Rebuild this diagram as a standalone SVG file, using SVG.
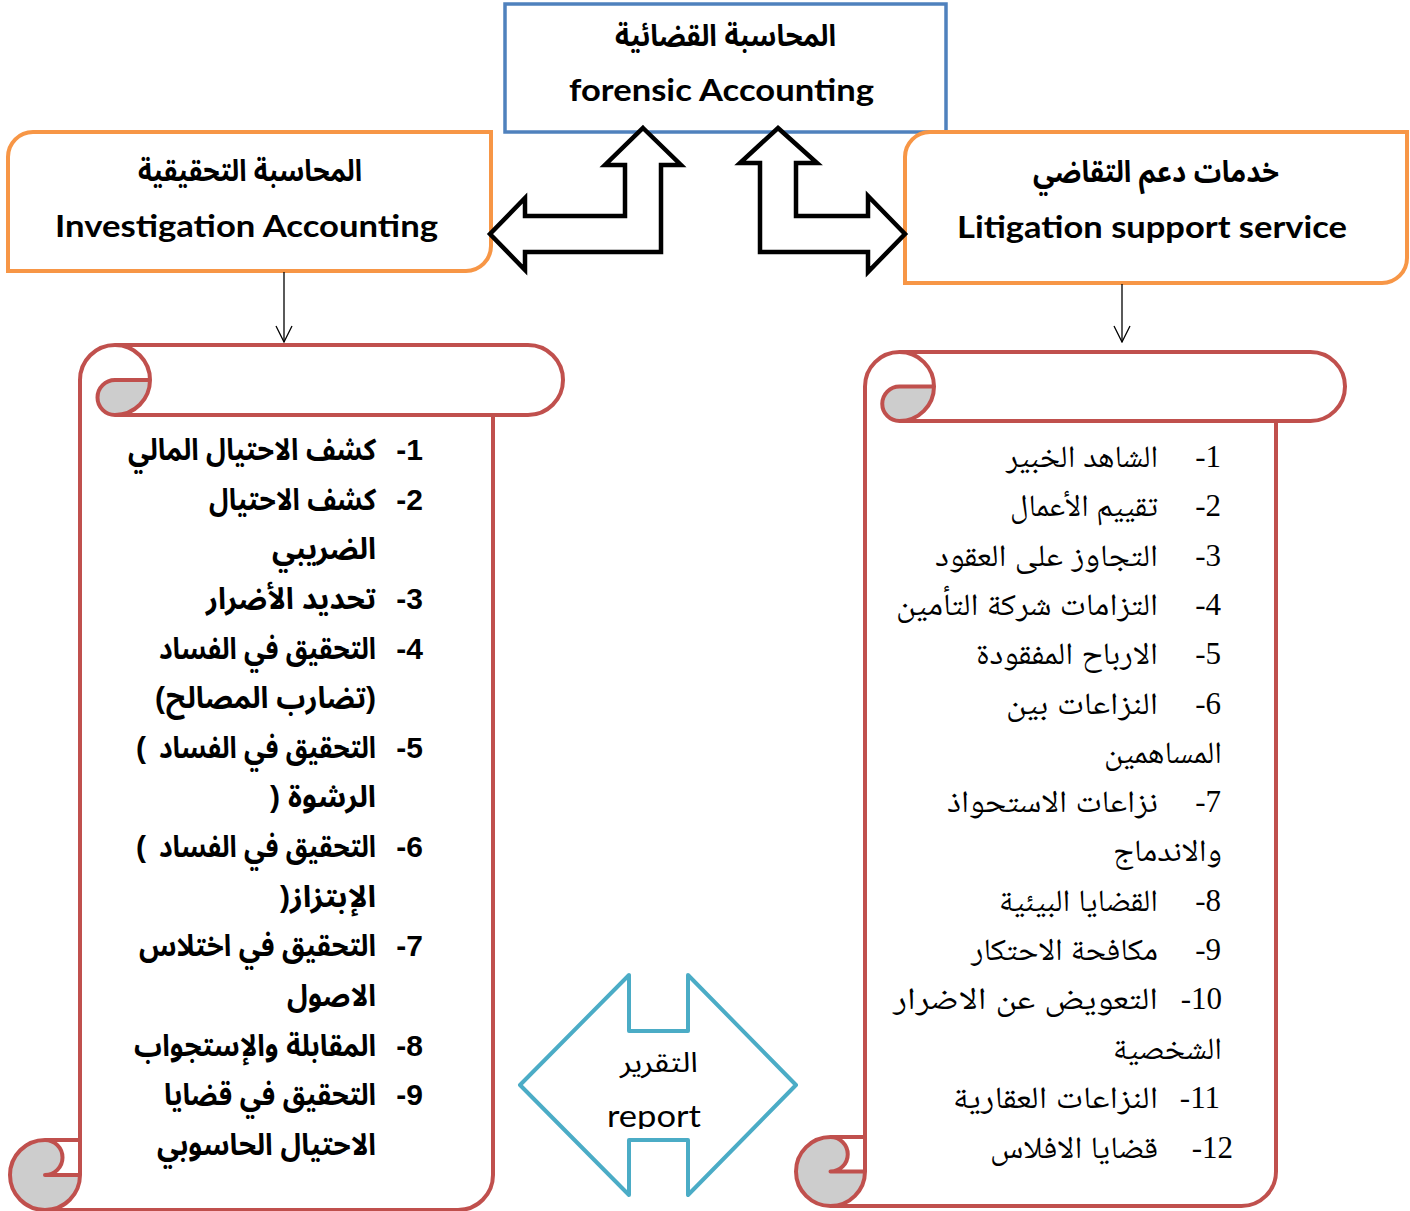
<svg xmlns="http://www.w3.org/2000/svg" width="1410" height="1211" viewBox="0 0 1410 1211">
  <style>
    .blue { fill: #ffffff; stroke: #4F81BD; stroke-width: 3.5; }
    .orange { fill: #ffffff; stroke: #F79646; stroke-width: 4; }
    .scroll-fill { fill: #ffffff; stroke: none; }
    .scroll-line { fill: none; stroke: #C0504D; stroke-width: 4; stroke-linejoin: round; }
    .scroll-shade { fill: #CDCDCD; stroke: none; }
    .block { fill: #ffffff; stroke: #000000; stroke-width: 4.5; stroke-linejoin: miter; }
    .report { fill: #ffffff; stroke: #4BACC6; stroke-width: 4; stroke-linejoin: round; }
    .conn { fill: none; stroke: #000000; stroke-width: 1.3; }
    .en { font-family: Lato, "Open Sans", "Liberation Sans", sans-serif; font-weight: bold; font-size: 31px; fill: #000; }
    .ar-title { font-family: "Liberation Sans", "Noto Sans Arabic", "DejaVu Sans", sans-serif; font-weight: bold; font-size: 30px; fill: #000; }
    .ar-b { font-family: "Liberation Sans", "Noto Sans Arabic", "DejaVu Sans", sans-serif; font-weight: bold; font-size: 30px; fill: #000; text-anchor: end; }
    .par-b { font-family: "Liberation Sans", Arial, sans-serif; font-weight: bold; font-size: 30px; fill: #000; }
    .num-b { font-family: "Liberation Sans", Arial, sans-serif; font-weight: bold; font-size: 30px; fill: #000; text-anchor: end; }
    .ar-r { font-family: "Liberation Serif", "Noto Naskh Arabic", "DejaVu Sans", serif; font-size: 31px; fill: #000; text-anchor: end; }
    .num-r { font-family: "Liberation Serif", "Times New Roman", serif; font-size: 31px; fill: #000; text-anchor: end; }
    .rep-ar { font-family: "Liberation Sans", "Noto Sans Arabic", "DejaVu Sans", sans-serif; font-size: 28px; fill: #000; text-anchor: middle; }
    .rep-en { font-family: Lato, "Open Sans", "Liberation Sans", sans-serif; font-size: 31px; fill: #000; text-anchor: middle; }
  </style>
  <defs>
    <marker id="open-head" viewBox="0 0 18 18" refX="17" refY="9" markerWidth="18" markerHeight="18" markerUnits="userSpaceOnUse" orient="auto">
      <path d="M1,1 L17,9 L1,17" fill="none" stroke="#000" stroke-width="1.3"/>
    </marker>
    <clipPath id="report-clip">
      <rect x="520" y="1090" width="280" height="39"/>
    </clipPath>
  </defs>

  <!-- left scroll: investigation services -->
  <g id="scroll-investigation">
    <path class="scroll-fill" d="M80,1140 L80,380 A35,35 0 0 1 115,345 L528,345 A35,35 0 0 1 528,415 L493,415 L493,1175 A35,35 0 0 1 458,1210 L45,1210 A35,35 0 0 1 45,1140 Z"/>
    <path class="scroll-shade" d="M150,380 A35,35 0 0 1 115,415 A17.5,17.5 0 0 1 115,380 Z"/>
    <path class="scroll-shade" d="M80,1175 A35,35 0 1 1 45,1140 A17.5,17.5 0 0 1 45,1175 Z"/>
    <path class="scroll-line" d="M80,1140 L80,380 A35,35 0 0 1 115,345 L528,345 A35,35 0 0 1 528,415 L493,415 L493,1175 A35,35 0 0 1 458,1210 L45,1210 A35,35 0 0 1 45,1140 Z M115,345 A35,35 0 0 1 115,415 A17.5,17.5 0 0 1 115,380 L150,380 M493,415 L115,415 M45,1140 A17.5,17.5 0 0 1 45,1175 L80,1175 M45,1210 A35,35 0 0 0 80,1175 L80,1140"/>
    <text class="num-b" x="423" y="460">-1</text>
    <text class="ar-b" x="376" y="460" textLength="248" lengthAdjust="spacingAndGlyphs">كشف الاحتيال المالي</text>
    <text class="num-b" x="423" y="510">-2</text>
    <text class="ar-b" x="376" y="510" textLength="167" lengthAdjust="spacingAndGlyphs">كشف الاحتيال</text>
    <text class="ar-b" x="376" y="559" textLength="104" lengthAdjust="spacingAndGlyphs">الضريبي</text>
    <text class="num-b" x="423" y="609">-3</text>
    <text class="ar-b" x="376" y="609" textLength="170" lengthAdjust="spacingAndGlyphs">تحديد الأضرار</text>
    <text class="num-b" x="423" y="659">-4</text>
    <text class="ar-b" x="376" y="659" textLength="217" lengthAdjust="spacingAndGlyphs">التحقيق في الفساد</text>
    <text class="par-b" x="155" y="708">(</text>
    <text class="ar-b" x="366" y="708" textLength="200" lengthAdjust="spacingAndGlyphs">تضارب المصالح</text>
    <text class="par-b" x="366" y="708">)</text>
    <text class="num-b" x="423" y="758">-5</text>
    <text class="ar-b" x="376" y="758" textLength="217" lengthAdjust="spacingAndGlyphs">التحقيق في الفساد</text>
    <text class="par-b" x="136" y="758">(</text>
    <text class="ar-b" x="376" y="807" textLength="88" lengthAdjust="spacingAndGlyphs">الرشوة</text>
    <text class="par-b" x="270" y="807">)</text>
    <text class="num-b" x="423" y="857">-6</text>
    <text class="ar-b" x="376" y="857" textLength="217" lengthAdjust="spacingAndGlyphs">التحقيق في الفساد</text>
    <text class="par-b" x="136" y="857">(</text>
    <text class="ar-b" x="376" y="907" textLength="86" lengthAdjust="spacingAndGlyphs">الإبتزاز</text>
    <text class="par-b" x="280" y="907">)</text>
    <text class="num-b" x="423" y="956">-7</text>
    <text class="ar-b" x="376" y="956" textLength="237" lengthAdjust="spacingAndGlyphs">التحقيق في اختلاس</text>
    <text class="ar-b" x="376" y="1006" textLength="89" lengthAdjust="spacingAndGlyphs">الاصول</text>
    <text class="num-b" x="423" y="1056">-8</text>
    <text class="ar-b" x="376" y="1056" textLength="242" lengthAdjust="spacingAndGlyphs">المقابلة والإستجواب</text>
    <text class="num-b" x="423" y="1105">-9</text>
    <text class="ar-b" x="376" y="1105" textLength="212" lengthAdjust="spacingAndGlyphs">التحقيق في قضايا</text>
    <text class="ar-b" x="376" y="1155" textLength="219" lengthAdjust="spacingAndGlyphs">الاحتيال الحاسوبي</text>
  </g>

  <!-- right scroll: litigation support services -->
  <g id="scroll-litigation">
    <path class="scroll-fill" d="M865,1137 L865,386.5 A34.5,34.5 0 0 1 899.5,352 L1310.5,352 A34.5,34.5 0 0 1 1310.5,421 L1276,421 L1276,1171.5 A34.5,34.5 0 0 1 1241.5,1206 L830.5,1206 A34.5,34.5 0 0 1 830.5,1137 Z"/>
    <path class="scroll-shade" d="M934,386.5 A34.5,34.5 0 0 1 899.5,421 A17.25,17.25 0 0 1 899.5,386.5 Z"/>
    <path class="scroll-shade" d="M865,1171.5 A34.5,34.5 0 1 1 830.5,1137 A17.25,17.25 0 0 1 830.5,1171.5 Z"/>
    <path class="scroll-line" d="M865,1137 L865,386.5 A34.5,34.5 0 0 1 899.5,352 L1310.5,352 A34.5,34.5 0 0 1 1310.5,421 L1276,421 L1276,1171.5 A34.5,34.5 0 0 1 1241.5,1206 L830.5,1206 A34.5,34.5 0 0 1 830.5,1137 Z M899.5,352 A34.5,34.5 0 0 1 899.5,421 A17.25,17.25 0 0 1 899.5,386.5 L934,386.5 M1276,421 L899.5,421 M830.5,1137 A17.25,17.25 0 0 1 830.5,1171.5 L865,1171.5 M830.5,1206 A34.5,34.5 0 0 0 865,1171.5 L865,1137"/>
    <text class="num-r" x="1221" y="467">-1</text>
    <text class="ar-r" x="1158" y="467" textLength="152" lengthAdjust="spacingAndGlyphs">الشاهد الخبير</text>
    <text class="num-r" x="1221" y="516">-2</text>
    <text class="ar-r" x="1158" y="516" textLength="148" lengthAdjust="spacingAndGlyphs">تقييم الأعمال</text>
    <text class="num-r" x="1221" y="566">-3</text>
    <text class="ar-r" x="1158" y="566" textLength="223" lengthAdjust="spacingAndGlyphs">التجاوز على العقود</text>
    <text class="num-r" x="1221" y="615">-4</text>
    <text class="ar-r" x="1158" y="615" textLength="262" lengthAdjust="spacingAndGlyphs">التزامات شركة التأمين</text>
    <text class="num-r" x="1221" y="664">-5</text>
    <text class="ar-r" x="1158" y="664" textLength="182" lengthAdjust="spacingAndGlyphs">الارباح المفقودة</text>
    <text class="num-r" x="1221" y="714">-6</text>
    <text class="ar-r" x="1158" y="714" textLength="152" lengthAdjust="spacingAndGlyphs">النزاعات بين</text>
    <text class="ar-r" x="1222" y="763" textLength="118" lengthAdjust="spacingAndGlyphs">المساهمين</text>
    <text class="num-r" x="1221" y="812">-7</text>
    <text class="ar-r" x="1158" y="812" textLength="211" lengthAdjust="spacingAndGlyphs">نزاعات الاستحواذ</text>
    <text class="ar-r" x="1222" y="861" textLength="109" lengthAdjust="spacingAndGlyphs">والاندماج</text>
    <text class="num-r" x="1221" y="911">-8</text>
    <text class="ar-r" x="1158" y="911" textLength="159" lengthAdjust="spacingAndGlyphs">القضايا البيئية</text>
    <text class="num-r" x="1221" y="960">-9</text>
    <text class="ar-r" x="1158" y="960" textLength="187" lengthAdjust="spacingAndGlyphs">مكافحة الاحتكار</text>
    <text class="num-r" x="1222" y="1009">-10</text>
    <text class="ar-r" x="1158" y="1009" textLength="265" lengthAdjust="spacingAndGlyphs">التعويض عن الاضرار</text>
    <text class="ar-r" x="1222" y="1059" textLength="109" lengthAdjust="spacingAndGlyphs">الشخصية</text>
    <text class="num-r" x="1220" y="1108">-11</text>
    <text class="ar-r" x="1158" y="1108" textLength="205" lengthAdjust="spacingAndGlyphs">النزاعات العقارية</text>
    <text class="num-r" x="1233" y="1158">-12</text>
    <text class="ar-r" x="1158" y="1158" textLength="168" lengthAdjust="spacingAndGlyphs">قضايا الافلاس</text>
  </g>

  <!-- top node: forensic accounting -->
  <g id="node-forensic">
    <rect class="blue" x="505" y="4" width="441" height="128"/>
    <text class="ar-title" x="725.5" y="46" text-anchor="middle" textLength="221" lengthAdjust="spacingAndGlyphs">المحاسبة القضائية</text>
    <text class="en" x="721.5" y="101" text-anchor="middle" textLength="305" lengthAdjust="spacingAndGlyphs">forensic Accounting</text>
  </g>

  <!-- left node: investigation accounting -->
  <g id="node-investigation">
    <path class="orange" d="M33,132 L491,132 L491,246 A25,25 0 0 1 466,271 L8,271 L8,157 A25,25 0 0 1 33,132 Z"/>
    <text class="ar-title" x="250" y="181" text-anchor="middle" textLength="224" lengthAdjust="spacingAndGlyphs">المحاسبة التحقيقية</text>
    <text class="en" x="246.5" y="237" text-anchor="middle" textLength="383" lengthAdjust="spacingAndGlyphs">Investigation Accounting</text>
  </g>

  <!-- right node: litigation support service -->
  <g id="node-litigation">
    <path class="orange" d="M930,132 L1407,132 L1407,258 A25,25 0 0 1 1382,283 L905,283 L905,157 A25,25 0 0 1 930,132 Z"/>
    <text class="ar-title" x="1156" y="182" text-anchor="middle" textLength="246" lengthAdjust="spacingAndGlyphs">خدمات دعم التقاضي</text>
    <text class="en" x="1152" y="238" text-anchor="middle" textLength="390" lengthAdjust="spacingAndGlyphs">Litigation support service</text>
  </g>

  <!-- middle node: report -->
  <g id="node-report">
    <path class="report" d="M629,975 L629,1031 L688,1031 L688,975 L796,1085 L688,1195 L688,1140 L629,1140 L629,1195 L520,1085 Z"/>
    <text class="rep-ar" x="659" y="1072" textLength="78" lengthAdjust="spacingAndGlyphs">التقرير</text>
    <g clip-path="url(#report-clip)">
      <text class="rep-en" x="654" y="1127" textLength="94" lengthAdjust="spacingAndGlyphs">report</text>
    </g>
  </g>

  <!-- connectors -->
  <g id="connectors">
    <path class="block" d="M643,128 L681,165 L661,165 L661,252 L525,252 L525,270 L490,234 L525,198 L525,216 L625,216 L625,165 L605,165 Z"/>
    <path class="block" d="M778,128 L817,163 L796,163 L796,216 L868,216 L868,196 L905,234 L868,272 L868,252 L760,252 L760,163 L740,163 Z"/>
    <line class="conn" x1="284" y1="272" x2="284" y2="342" marker-end="url(#open-head)"/>
    <line class="conn" x1="1122" y1="284" x2="1122" y2="342" marker-end="url(#open-head)"/>
  </g>
</svg>
